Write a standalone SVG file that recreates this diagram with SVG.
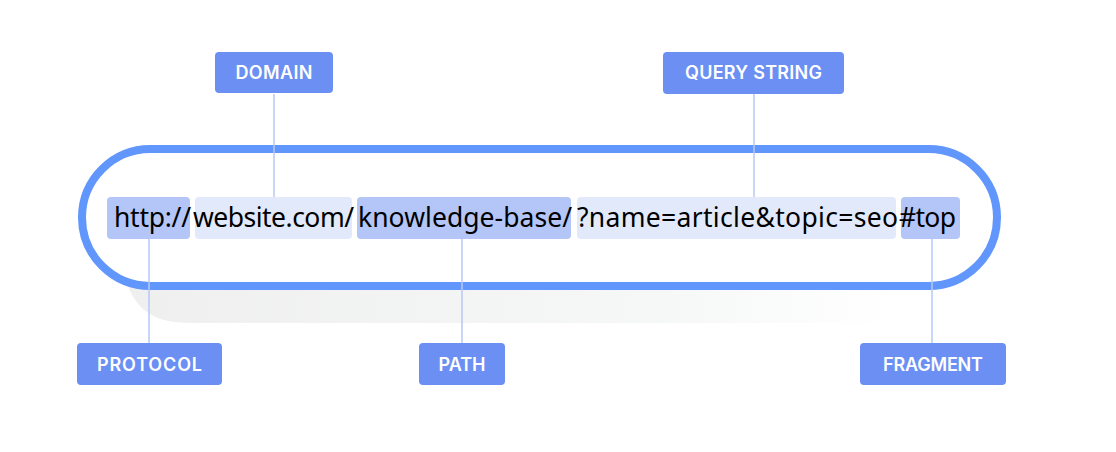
<svg xmlns="http://www.w3.org/2000/svg" width="1116" height="452" viewBox="0 0 1116 452">
<defs>
<linearGradient id="sh" x1="0" y1="0" x2="1" y2="0">
<stop offset="0" stop-color="#efefef"/>
<stop offset="0.7" stop-color="#f6f7f7"/>
<stop offset="1" stop-color="#ffffff"/>
</linearGradient>
<style>
.lbl{fill:#6b8ff2}
.lt{fill:#ffffff;font-family:Inter,"Noto Sans",sans-serif;font-weight:600;font-size:18px;text-anchor:middle}
.dk{fill:#b4c6f7}
.lg{fill:#e2e9fb}
.url{fill:#000000;font-family:"Noto Sans","Open Sans",sans-serif;font-size:26.5px}
.con{stroke:#b8c8f6;stroke-width:1.5;fill:none}
</style>
</defs>
<rect width="1116" height="452" fill="#ffffff"/>
<path d="M128,286 C138,312 156,323 192,323 L892,323 L892,286 Z" fill="url(#sh)"/>
<rect x="82" y="149" width="915" height="137" rx="68.5" fill="#ffffff" stroke="#6196fd" stroke-width="8"/>
<g id="segments">
<rect class="dk" x="107" y="197" width="83" height="42" rx="4"/>
<rect class="lg" x="195" y="197" width="157" height="42" rx="4"/>
<rect class="dk" x="357" y="197" width="214" height="42" rx="4"/>
<rect class="lg" x="577" y="197" width="319" height="42" rx="4"/>
<rect class="dk" x="901" y="197" width="59" height="42" rx="4"/>
<text class="url" x="114" y="227" textLength="77" lengthAdjust="spacing">http://</text>
<text class="url" x="193" y="227" textLength="161" lengthAdjust="spacing">website.com/</text>
<text class="url" x="358" y="227" textLength="214" lengthAdjust="spacing">knowledge-base/</text>
<text class="url" x="577" y="227" textLength="321" lengthAdjust="spacing">?name=article&amp;topic=seo</text>
<text class="url" x="899" y="227" textLength="57" lengthAdjust="spacing">#top</text>
</g>
<g id="connectors">
<line class="con" x1="274" y1="94" x2="274" y2="197"/>
<line class="con" x1="754" y1="94" x2="754" y2="197"/>
<line class="con" x1="149" y1="239" x2="149" y2="343"/>
<line class="con" x1="462" y1="239" x2="462" y2="343"/>
<line class="con" x1="932" y1="239" x2="932" y2="343"/>
</g>
<g id="domain"><rect class="lbl" x="215" y="52" width="118" height="41" rx="4"/><text class="lt" x="274" y="79" textLength="77" lengthAdjust="spacing">DOMAIN</text></g>
<g id="query-string"><rect class="lbl" x="663" y="52" width="181" height="42" rx="4"/><text class="lt" x="753.5" y="79" textLength="137" lengthAdjust="spacing">QUERY STRING</text></g>
<g id="protocol"><rect class="lbl" x="77" y="343" width="145" height="42" rx="4"/><text class="lt" x="149.5" y="371" textLength="105" lengthAdjust="spacing">PROTOCOL</text></g>
<g id="path"><rect class="lbl" x="419" y="343" width="86" height="42" rx="4"/><text class="lt" x="462" y="371" textLength="47" lengthAdjust="spacing">PATH</text></g>
<g id="fragment"><rect class="lbl" x="860" y="343" width="146" height="42" rx="4"/><text class="lt" x="933" y="371" textLength="100" lengthAdjust="spacing">FRAGMENT</text></g>
</svg>
